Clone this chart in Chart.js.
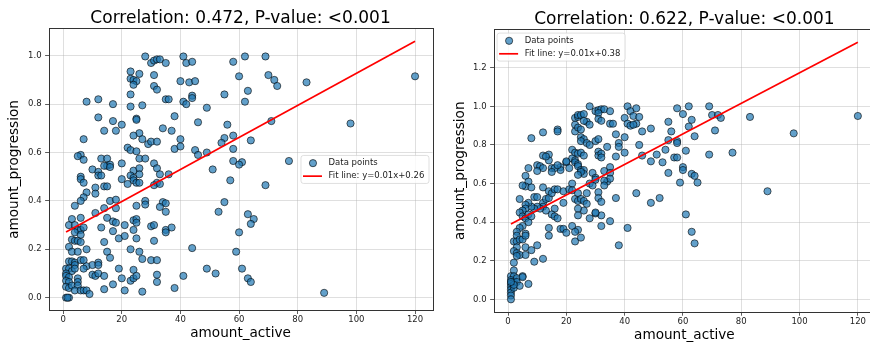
<!DOCTYPE html>
<html>
<head>
<meta charset="utf-8">
<script src="https://cdn.jsdelivr.net/npm/chart.js@4.4.0/dist/chart.umd.min.js"></script>
<style>
  html, body { margin: 0; padding: 0; background: #fff; overflow: hidden; }
  #wrap { position: relative; width: 870px; height: 346px; overflow: hidden; }
  canvas { position: absolute; top: 0; }
  #chartLeft { left: 0; }
  #chartRight { left: 440px; }
</style>
</head>
<body>
<div id="wrap">
  <canvas id="chartLeft" width="440" height="346"></canvas>
  <canvas id="chartRight" width="440" height="346"></canvas>
</div>
<script>
// Data: first sample
const leftActive = [
  28, 30, 31, 32, 33, 35, 41, 42, 44, 58, 62, 69,
  23, 26, 31, 60, 70, 72, 120, 23, 24, 25, 24, 40, 43, 45, 83, 31, 32, 73, 63,
  23, 44, 44, 55, 8, 12, 17, 35, 36, 41, 42, 62, 23, 27, 49,
  12, 25, 25, 38, 17, 20, 46, 56, 71, 98, 14, 18, 34, 37, 26, 24,
  7, 27, 29, 30, 32, 40, 55, 58, 64, 54, 22, 23, 25, 38, 40, 58, 45, 46, 49, 6, 5, 7,
  13, 15, 26, 28, 58, 77, 61, 60, 20, 31, 15, 16, 14, 16,
  10, 12, 12, 13, 24, 26, 32, 33, 36, 23, 24, 24, 26, 51, 6, 6, 20, 22, 25, 26, 32, 31, 33, 57, 69, 7, 11, 14, 15,
  8, 11, 7, 6, 16, 18, 14, 18, 28, 28, 34, 35, 33, 35, 55, 53, 4, 11, 25,
  2, 3, 4, 6, 15, 13, 17, 18, 21, 24, 25, 25, 30, 31, 35, 35, 37, 24, 17, 5, 6, 7, 63, 65, 64, 60,
  4, 6, 3, 4, 5, 6, 14, 19, 21, 25, 31, 2, 3, 5, 8, 15, 23, 26, 44, 59,
  2, 3, 4, 4, 6, 7, 8, 10, 12, 12, 16, 27, 30, 32, 1, 2, 3, 4, 7, 19, 24, 49, 61, 52, 32, 41,
  10, 11, 12, 14, 20, 23, 24, 25, 63, 64,
  1, 1, 2, 1, 2, 1, 2, 3, 5, 5, 5, 4, 6, 7, 8, 9, 14, 17, 21, 27, 32, 38, 89, 1, 2, 1.5
];
const leftProgression = [
  0.997, 0.97, 0.98, 0.985, 0.985, 0.97, 0.997, 0.97, 0.975, 0.975, 0.997, 0.997,
  0.935, 0.925, 0.92, 0.915, 0.92, 0.90, 0.915, 0.905, 0.90, 0.895, 0.88, 0.895, 0.89, 0.895, 0.89, 0.875, 0.86, 0.875, 0.855,
  0.84, 0.835, 0.825, 0.84, 0.81, 0.82, 0.80, 0.82, 0.82, 0.81, 0.80, 0.81, 0.79, 0.795, 0.785,
  0.745, 0.74, 0.735, 0.75, 0.73, 0.715, 0.725, 0.715, 0.73, 0.72, 0.69, 0.69, 0.70, 0.69, 0.68, 0.67,
  0.655, 0.655, 0.635, 0.645, 0.645, 0.655, 0.66, 0.67, 0.65, 0.64, 0.62, 0.61, 0.605, 0.615, 0.625, 0.615, 0.61, 0.59, 0.60, 0.59, 0.585, 0.57,
  0.575, 0.575, 0.575, 0.575, 0.565, 0.565, 0.56, 0.55, 0.555, 0.555, 0.545, 0.55, 0.545, 0.54,
  0.53, 0.52, 0.505, 0.505, 0.525, 0.535, 0.535, 0.51, 0.51, 0.505, 0.495, 0.485, 0.51, 0.53, 0.50, 0.49, 0.49, 0.47, 0.475, 0.475, 0.475, 0.465, 0.47, 0.485, 0.465, 0.475, 0.455, 0.46, 0.46,
  0.435, 0.43, 0.415, 0.40, 0.40, 0.405, 0.37, 0.37, 0.40, 0.385, 0.395, 0.39, 0.375, 0.355, 0.395, 0.355, 0.38, 0.35, 0.38,
  0.30, 0.325, 0.30, 0.33, 0.33, 0.29, 0.315, 0.31, 0.30, 0.32, 0.325, 0.31, 0.295, 0.30, 0.28, 0.27, 0.29, 0.28, 0.275, 0.28, 0.28, 0.29, 0.345, 0.325, 0.305, 0.27,
  0.27, 0.26, 0.24, 0.235, 0.235, 0.23, 0.23, 0.245, 0.255, 0.245, 0.235, 0.21, 0.19, 0.19, 0.20, 0.19, 0.20, 0.19, 0.205, 0.19,
  0.15, 0.15, 0.145, 0.135, 0.155, 0.155, 0.13, 0.135, 0.145, 0.135, 0.165, 0.16, 0.155, 0.155, 0.12, 0.12, 0.11, 0.12, 0.12, 0.12, 0.115, 0.12, 0.12, 0.10, 0.095, 0.09,
  0.095, 0.09, 0.10, 0.09, 0.08, 0.07, 0.08, 0.09, 0.08, 0.065,
  0.10, 0.09, 0.085, 0.07, 0.065, 0.045, 0.04, 0.05, 0.08, 0.065, 0.05, 0.03, 0.03, 0.03, 0.03, 0.015, 0.035, 0.055, 0.03, 0.025, 0.065, 0.04, 0.02, 0.0, 0.0, 0.0
];

// Data: second sample
const rightActive = [
  28, 30, 31, 32, 33, 35, 31, 41, 42, 43, 44, 62, 69, 58, 60, 40, 45, 44, 41, 42, 43, 63, 70, 72, 73, 83, 120,
  55, 62, 56, 71, 49, 46, 64, 98,
  23, 24, 24, 25, 26, 27, 26, 28, 23, 23, 24, 25, 25, 26, 25, 27, 28, 30, 31, 31, 32, 35, 36, 37, 38, 38, 40, 40, 34,
  31, 31, 32, 32, 17, 17, 12, 8,
  22, 23, 24, 25, 26, 22, 23, 23, 20, 20, 18, 18, 14, 14, 12, 10, 11, 12, 15, 16, 17, 15, 10, 7, 21, 13,
  24, 24, 25, 26, 26, 25, 24, 29, 30, 33, 34, 35, 35, 35, 33, 33,
  45, 46, 51, 53, 49, 54, 55, 58, 58, 57, 58, 60, 60, 61, 69, 77, 55, 63, 64, 65, 59, 44, 49, 52, 41, 38, 61, 63, 64, 89,
  37, 37, 35, 32, 32, 30, 30, 31, 31, 32,
  6, 7, 6, 5, 8, 9, 10, 12, 12, 12, 13, 14, 14, 15, 16, 17, 19, 21, 22, 22, 23, 24, 24, 25, 26, 27, 28, 26, 24, 24,
  27, 28, 29, 30, 19, 16, 15, 16, 17, 14, 14, 18, 19, 20, 22, 24, 23, 23, 25,
  13, 11, 10, 9, 8, 7, 6, 6, 5, 4, 4, 5, 6, 7, 7, 8, 5, 4, 3, 3, 2, 3, 4, 5, 6, 6,
  3, 2, 3, 4, 3, 6, 6, 8, 9, 10, 12,
  2, 2, 1, 2, 1, 2, 1, 1, 1, 1, 1, 1, 2, 3, 3, 4, 5, 5, 7, 2, 1
];
const rightProgression = [
  1.0, 0.975, 0.98, 0.985, 0.985, 0.975, 0.965, 1.0, 0.975, 0.95, 0.99, 1.0, 1.0, 0.99, 0.96, 0.94, 0.945, 0.91, 0.91, 0.90, 0.905, 0.93, 0.955, 0.955, 0.94, 0.945, 0.95,
  0.92, 0.895, 0.87, 0.875, 0.885, 0.87, 0.845, 0.86,
  0.94, 0.945, 0.955, 0.955, 0.96, 0.92, 0.925, 0.905, 0.905, 0.87, 0.89, 0.88, 0.84, 0.83, 0.82, 0.81, 0.80, 0.82, 0.83, 0.935, 0.925, 0.91, 0.91, 0.855, 0.81, 0.79, 0.84, 0.76, 0.79,
  0.765, 0.745, 0.755, 0.735, 0.88, 0.87, 0.865, 0.835,
  0.775, 0.76, 0.755, 0.76, 0.745, 0.73, 0.72, 0.71, 0.71, 0.715, 0.685, 0.67, 0.75, 0.72, 0.745, 0.695, 0.69, 0.68, 0.68, 0.68, 0.695, 0.66, 0.665, 0.68, 0.68, 0.74,
  0.70, 0.69, 0.67, 0.67, 0.65, 0.66, 0.645, 0.655, 0.63, 0.665, 0.61, 0.685, 0.655, 0.625, 0.615, 0.59,
  0.80, 0.745, 0.75, 0.71, 0.715, 0.775, 0.825, 0.82, 0.81, 0.735, 0.735, 0.685, 0.67, 0.77, 0.75, 0.76, 0.655, 0.65, 0.64, 0.605, 0.605, 0.55, 0.50, 0.525, 0.37, 0.28, 0.44, 0.35, 0.29, 0.56,
  0.74, 0.525, 0.405, 0.435, 0.38, 0.445, 0.45, 0.555, 0.525, 0.505,
  0.64, 0.61, 0.585, 0.59, 0.58, 0.53, 0.53, 0.58, 0.50, 0.48, 0.52, 0.56, 0.525, 0.55, 0.57, 0.57, 0.56, 0.57, 0.60, 0.565, 0.52, 0.55, 0.51, 0.52, 0.51, 0.495, 0.42, 0.46, 0.47, 0.435,
  0.55, 0.60, 0.59, 0.62, 0.50, 0.47, 0.44, 0.43, 0.42, 0.37, 0.33, 0.365, 0.365, 0.345, 0.38, 0.36, 0.35, 0.30, 0.32,
  0.46, 0.47, 0.48, 0.47, 0.48, 0.50, 0.49, 0.47, 0.46, 0.52, 0.45, 0.43, 0.42, 0.40, 0.44, 0.43, 0.38, 0.37, 0.35, 0.33, 0.30, 0.30, 0.31, 0.31, 0.34, 0.33,
  0.27, 0.25, 0.24, 0.23, 0.225, 0.27, 0.23, 0.255, 0.195, 0.28, 0.21,
  0.19, 0.15, 0.12, 0.12, 0.10, 0.09, 0.08, 0.065, 0.05, 0.035, 0.02, 0.0, 0.06, 0.11, 0.09, 0.07, 0.12, 0.115, 0.08, 0.075, 0.09
];

// Fit coefficients [slope, intercept] and correlation stats
const leftFit = [0.00663, 0.2645];
const rightFit = [0.00792, 0.382];
const correlations = [0.472, 0.622];
const pValues = ['<0.001', '<0.001'];

// Tick values
const xTicks = [0, 20, 40, 60, 80, 100, 120];
const leftYTicks = [0, 0.2, 0.4, 0.6, 0.8, 1.0];
const rightYTicks = [0, 0.2, 0.4, 0.6, 0.8, 1.0, 1.2];

const FONT = '"DejaVu Sans", sans-serif';
const pointFill = 'rgba(31,119,180,0.7)';
const pointEdge = 'rgba(0,0,0,0.75)';

Chart.defaults.font.family = FONT;
Chart.defaults.color = '#222';

// Box around the plot area
const frame = {
  id: 'frame',
  afterDraw(chart) {
    const { ctx, chartArea: a } = chart;
    ctx.save();
    ctx.strokeStyle = '#333';
    ctx.lineWidth = 1;
    ctx.strokeRect(Math.round(a.left) + 0.5, Math.round(a.top) + 0.5,
      Math.round(a.right - a.left), Math.round(a.bottom - a.top));
    ctx.restore();
  }
};

// Legend drawn inside the plot area
const boxLegend = {
  id: 'boxLegend',
  afterDraw(chart, args, opts) {
    const { ctx, chartArea: a } = chart;
    const sets = chart.data.datasets;
    ctx.save();
    ctx.font = '8.5px ' + FONT;
    const textW = Math.max(...sets.map(d => ctx.measureText(d.label).width));
    const w = 2 + 19 + 6.6 + textW + 4.7, h = 28;
    let x, y;
    if (opts.loc === 'upper left') {
      x = a.left + 3.5; y = a.top + 3.7;
    } else {
      x = a.right - 3.5 - w; y = (a.top + a.bottom) / 2 - h / 2;
    }
    ctx.beginPath();
    ctx.roundRect(x, y, w, h, 2.5);
    ctx.fillStyle = 'rgba(255,255,255,0.8)';
    ctx.fill();
    ctx.strokeStyle = 'rgba(204,204,204,0.8)';
    ctx.lineWidth = 0.8;
    ctx.stroke();

    ctx.textBaseline = 'middle';
    sets.forEach((d, i) => {
      const cy = y + 7.7 + i * 13;
      if (d.showLine) {
        ctx.beginPath();
        ctx.moveTo(x + 2, cy);
        ctx.lineTo(x + 21, cy);
        ctx.strokeStyle = d.borderColor;
        ctx.lineWidth = d.borderWidth;
        ctx.stroke();
      } else {
        ctx.beginPath();
        ctx.arc(x + 12, cy, 3.6, 0, Math.PI * 2);
        ctx.fillStyle = pointFill;
        ctx.fill();
        ctx.strokeStyle = pointEdge;
        ctx.lineWidth = 0.8;
        ctx.stroke();
      }
      ctx.fillStyle = '#222';
      ctx.fillText(d.label, x + 27.6, cy);
    });
    ctx.restore();
  }
};

function renderChart(canvasId, xs, ys, fit, idx, yTicks, layout) {
  const ctx = document.getElementById(canvasId).getContext('2d');
  const points = xs.map((x, i) => ({ x: x, y: ys[i] }));
  const x0 = Math.min(...xs), x1 = Math.max(...xs);
  const fitLine = [x0, x1].map(x => ({ x: x, y: fit[0] * x + fit[1] }));
  const fitLabel = 'Fit line: y=' + fit[0].toFixed(2) + 'x+' + fit[1].toFixed(2);

  return new Chart(ctx, {
    type: 'scatter',
    data: {
      datasets: [{
        label: 'Data points',
        data: points,
        pointRadius: 3.6,
        pointBackgroundColor: pointFill,
        pointBorderColor: pointEdge,
        pointBorderWidth: 0.8,
        order: 1
      }, {
        label: fitLabel,
        data: fitLine,
        showLine: true,
        pointRadius: 0,
        borderColor: '#ff0000',
        borderWidth: 1.7,
        order: 0
      }]
    },
    options: {
      responsive: false,
      animation: false,
      events: [],
      layout: { padding: { left: 0, right: layout.padRight, top: 0, bottom: 0 } },
      plugins: {
        legend: { display: false },
        tooltip: { enabled: false },
        title: {
          display: true,
          fullSize: false,
          text: 'Correlation: ' + correlations[idx].toFixed(3) + ', P-value: ' + pValues[idx],
          color: '#000',
          font: { size: 17, weight: 'normal', lineHeight: 1.2 },
          padding: { top: layout.titleTop, bottom: 0 }
        },
        boxLegend: { loc: layout.legendLoc }
      },
      scales: {
        x: {
          type: 'linear',
          min: -4.95,
          max: 125.95,
          afterBuildTicks: axis => { axis.ticks = xTicks.map(v => ({ value: v })); },
          afterFit: axis => { axis.height = layout.xAxisHeight; },
          ticks: { font: { size: 8.5 }, padding: 1, callback: v => String(v), maxRotation: 0 },
          grid: { color: 'rgba(176,176,176,0.5)', lineWidth: 0.8, tickColor: '#333', tickLength: 3.5 },
          border: { display: false },
          title: {
            display: true,
            text: 'amount_active',
            color: '#000',
            font: { size: 13.6, lineHeight: 1.2 },
            padding: { top: 0, bottom: layout.xTitlePad }
          }
        },
        y: {
          type: 'linear',
          min: layout.yMin,
          max: layout.yMax,
          afterBuildTicks: axis => { axis.ticks = yTicks.map(v => ({ value: v })); },
          afterFit: axis => { axis.width = layout.yAxisWidth; },
          ticks: { font: { size: 8.5 }, padding: 3.5, callback: v => v.toFixed(1) },
          grid: { color: 'rgba(176,176,176,0.5)', lineWidth: 0.8, tickColor: '#333', tickLength: 3.5 },
          border: { display: false },
          title: {
            display: true,
            text: 'amount_progression',
            color: '#000',
            font: { size: 13.6, lineHeight: 1.2 },
            padding: { top: layout.yTitlePad, bottom: 0 }
          }
        }
      }
    },
    plugins: [frame, boxLegend]
  });
}

renderChart('chartLeft', leftActive, leftProgression, leftFit, 0, leftYTicks, {
  padRight: 7.5, titleTop: 8, xAxisHeight: 35.5, yAxisWidth: 48.6,
  xTitlePad: 4.8, yTitlePad: 6.6, yMin: -0.053, yMax: 1.113, legendLoc: 'center right'
});

renderChart('chartRight', rightActive, rightProgression, rightFit, 1, rightYTicks, {
  padRight: 1, titleTop: 9, xAxisHeight: 33.8, yAxisWidth: 53.6,
  xTitlePad: 2.5, yTitlePad: 12.2, yMin: -0.0666, yMax: 1.3986, legendLoc: 'upper left'
});
</script>
</body>
</html>
